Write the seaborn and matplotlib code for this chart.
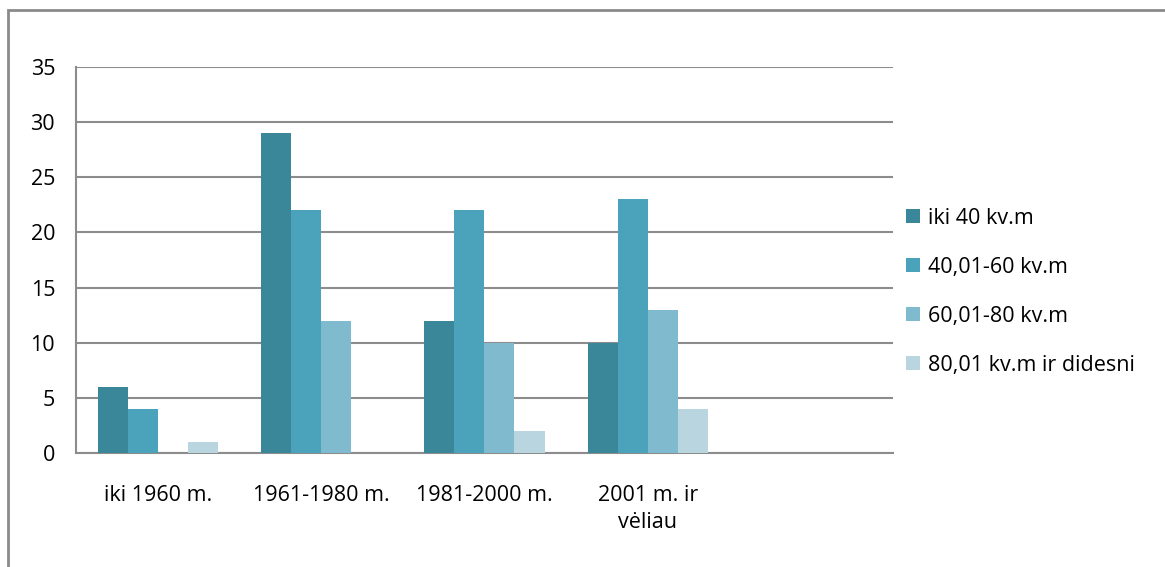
import matplotlib
matplotlib.use("Agg")
import matplotlib.pyplot as plt
from matplotlib.patches import Rectangle
import pandas as pd
import seaborn as sns

# duomenys
laikotarpiai = ["iki 1960 m.", "1961-1980 m.", "1981-2000 m.", "2001 m. ir\nvėliau"]
serijos = ["iki 40 kv.m", "40,01-60 kv.m", "60,01-80 kv.m", "80,01 kv.m ir didesni"]
iki_40 = [6, 29, 12, 10]
nuo_40_iki_60 = [4, 22, 22, 23]
nuo_60_iki_80 = [0, 12, 10, 13]
virs_80 = [1, 0, 2, 4]
spalvos = ["#3a8799", "#4aa3ba", "#7fbacf", "#b8d5e0"]

df = pd.DataFrame({
    "laikotarpis": laikotarpiai * 4,
    "serija": [s for s in serijos for _ in laikotarpiai],
    "reiksme": iki_40 + nuo_40_iki_60 + nuo_60_iki_80 + virs_80,
})

sns.set_style("white")
plt.rcParams["font.family"] = ["Open Sans", "DejaVu Sans"]
plt.rcParams["text.color"] = "black"
plt.rcParams["xtick.labelcolor"] = "black"
plt.rcParams["ytick.labelcolor"] = "black"

fs = 15.5

fig = plt.figure(figsize=(11.65, 5.67), dpi=100)
ax = fig.add_axes([0.0652, 0.2011, 0.7013, 0.6807])

sns.barplot(data=df, x="laikotarpis", y="reiksme", hue="serija", order=laikotarpiai,
            hue_order=serijos, palette=spalvos, width=0.735, gap=0, linewidth=0,
            saturation=1, ax=ax, zorder=3)

grid_c = "#8c8c8c"
ax.set_xlim(-0.5, 4.5)
ax.set_ylim(0, 35)
ax.set_yticks(range(0, 36, 5))
ax.yaxis.grid(True, color=grid_c, linewidth=1.5, zorder=0)
ax.set_axisbelow(True)
for s in ["top", "right"]:
    ax.spines[s].set_visible(False)
ax.spines["left"].set_color(grid_c)
ax.spines["left"].set_linewidth(1.5)
ax.spines["bottom"].set_color(grid_c)
ax.spines["bottom"].set_linewidth(1.5)

ax.set_xticks(range(4))
ax.set_xticklabels(laikotarpiai, fontsize=fs, linespacing=1.4, color="black")
ax.set_xticks([i - 0.5 for i in range(6)], minor=True)
ax.tick_params(axis="x", which="major", length=0, pad=23)
ax.tick_params(axis="x", which="minor", length=8, width=1.5, color=grid_c, direction="out")
ax.tick_params(axis="y", length=8, width=1.5, color=grid_c, labelsize=fs, pad=7,
               labelcolor="black")
ax.set_xlabel("")
ax.set_ylabel("")

leg = ax.legend(loc="center left", bbox_to_anchor=(1.005, 0.418), frameon=False, fontsize=fs,
                handlelength=0.65, handleheight=0.65, handletextpad=0.4, labelspacing=1.3,
                borderaxespad=0)
for t in leg.get_texts():
    t.set_color("black")

fig.patches.append(Rectangle((8 / 1165, -0.05), 1.1, 1 - 10 / 567 + 0.05,
                             transform=fig.transFigure, fill=False,
                             edgecolor="#8a8a8a", linewidth=2))

fig.savefig("out.png", dpi=100)
